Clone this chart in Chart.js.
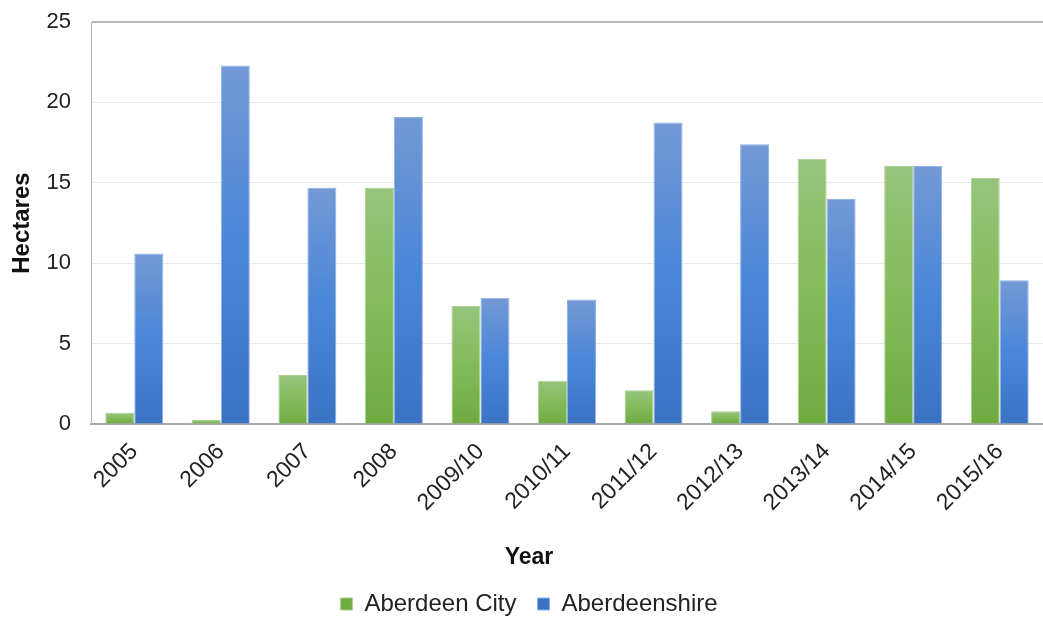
<!DOCTYPE html>
<html>
<head>
<meta charset="utf-8">
<script src="https://cdn.jsdelivr.net/npm/chart.js@4"></script>
<style>
  html, body { margin: 0; padding: 0; background: #fff; overflow: hidden; }
  #wrap { width: 1043px; height: 617px; }
</style>
</head>
<body>
<div id="wrap"><canvas id="bar-chart"></canvas></div>
<script>
const years = ["2005", "2006", "2007", "2008", "2009/10", "2010/11", "2011/12", "2012/13", "2013/14", "2014/15", "2015/16"];
const aberdeen_city = [0.7, 0.25, 3.05, 14.7, 7.35, 2.7, 2.1, 0.8, 16.5, 16.05, 15.3];
const aberdeenshire = [10.6, 22.3, 14.7, 19.1, 7.85, 7.75, 18.75, 17.4, 14.0, 16.05, 8.95];
const y_ticks = [0, 5, 10, 15, 20, 25];

const FONT = "'Liberation Sans', Arial, sans-serif";

// vertical gradient per bar, light at the top, darker at the base
function barFill(top, mid, bottom, flat) {
  return function (ctx) {
    const chart = ctx.chart;
    if (ctx.type !== "data" || !chart.chartArea || !chart.scales.y) return flat;
    const y = chart.scales.y;
    const y0 = y.getPixelForValue(ctx.parsed.y);
    const y1 = y.getPixelForValue(0);
    if (!isFinite(y0) || !isFinite(y1) || y1 - y0 < 1) return flat;
    const g = chart.ctx.createLinearGradient(0, y0, 0, y1);
    g.addColorStop(0, top);
    g.addColorStop(0.5, mid);
    g.addColorStop(1, bottom);
    return g;
  };
}

const data_bar = {
  labels: years,
  datasets: [
    {
      label: "Aberdeen City",
      data: aberdeen_city,
      backgroundColor: barFill("#96c47c", "#84bb5a", "#6eab41", "#7cb650"),
      borderColor: "#a9d192",
      borderWidth: 1,
    },
    {
      label: "Aberdeenshire",
      data: aberdeenshire,
      backgroundColor: barFill("#7399d5", "#4a86d8", "#3b73c3", "#4a86d8"),
      borderColor: "#8fb1e6",
      borderWidth: 1,
    },
  ],
};

const config_bar = {
  type: "bar",
  data: data_bar,
  options: {
    responsive: true,
    maintainAspectRatio: false,
    animation: false,
    categoryPercentage: 0.67,
    barPercentage: 1.0,
    layout: { padding: { left: 6, right: -9, top: 22, bottom: -9 } },
    scales: {
      x: {
        grid: { display: false },
        border: { display: true, color: "#a8a8a8", width: 2 },
        afterFit: (s) => { s.paddingLeft = 0; s.paddingRight = 0; },
        ticks: {
          color: "#222",
          font: { family: FONT, size: 23 },
          minRotation: 45,
          maxRotation: 45,
          padding: 6,
        },
      },
      y: {
        min: 0,
        max: 25,
        afterBuildTicks: (axis) => { axis.ticks = y_ticks.map((v) => ({ value: v })); },
        afterFit: (s) => { s.width = 85; s.paddingTop = 0; s.paddingBottom = 0; },
        grid: {
          drawTicks: false,
          color: (c) => (c.tick && c.tick.value === 25 ? "#b5b5b5" : "#e6eaf0"),
          lineWidth: (c) => (c.tick && c.tick.value === 25 ? 2 : 1),
        },
        border: { display: true, color: "#b5b5b5", width: 1 },
        ticks: {
          color: "#222",
          font: { family: FONT, size: 22 },
          padding: 20,
        },
        title: {
          display: true,
          text: "Hectares",
          color: "#111",
          font: { family: FONT, size: 24, weight: "bold" },
          padding: { top: 2, bottom: 0 },
        },
      },
    },
    plugins: {
      legend: {
        position: "bottom",
        labels: {
          color: "#222",
          font: { family: FONT, size: 24 },
          boxWidth: 12,
          boxHeight: 12,
          padding: 21,
        },
      },
      title: {
        display: true,
        position: "bottom",
        weight: 500,
        text: "Year",
        color: "#111",
        font: { family: FONT, size: 23, weight: "bold" },
        padding: { top: 21, bottom: 0 },
      },
      tooltip: { enabled: false },
    },
  },
};

var ctx_bar = document.getElementById("bar-chart").getContext("2d");
var myChart_bar = new Chart(ctx_bar, config_bar);
</script>
</body>
</html>
